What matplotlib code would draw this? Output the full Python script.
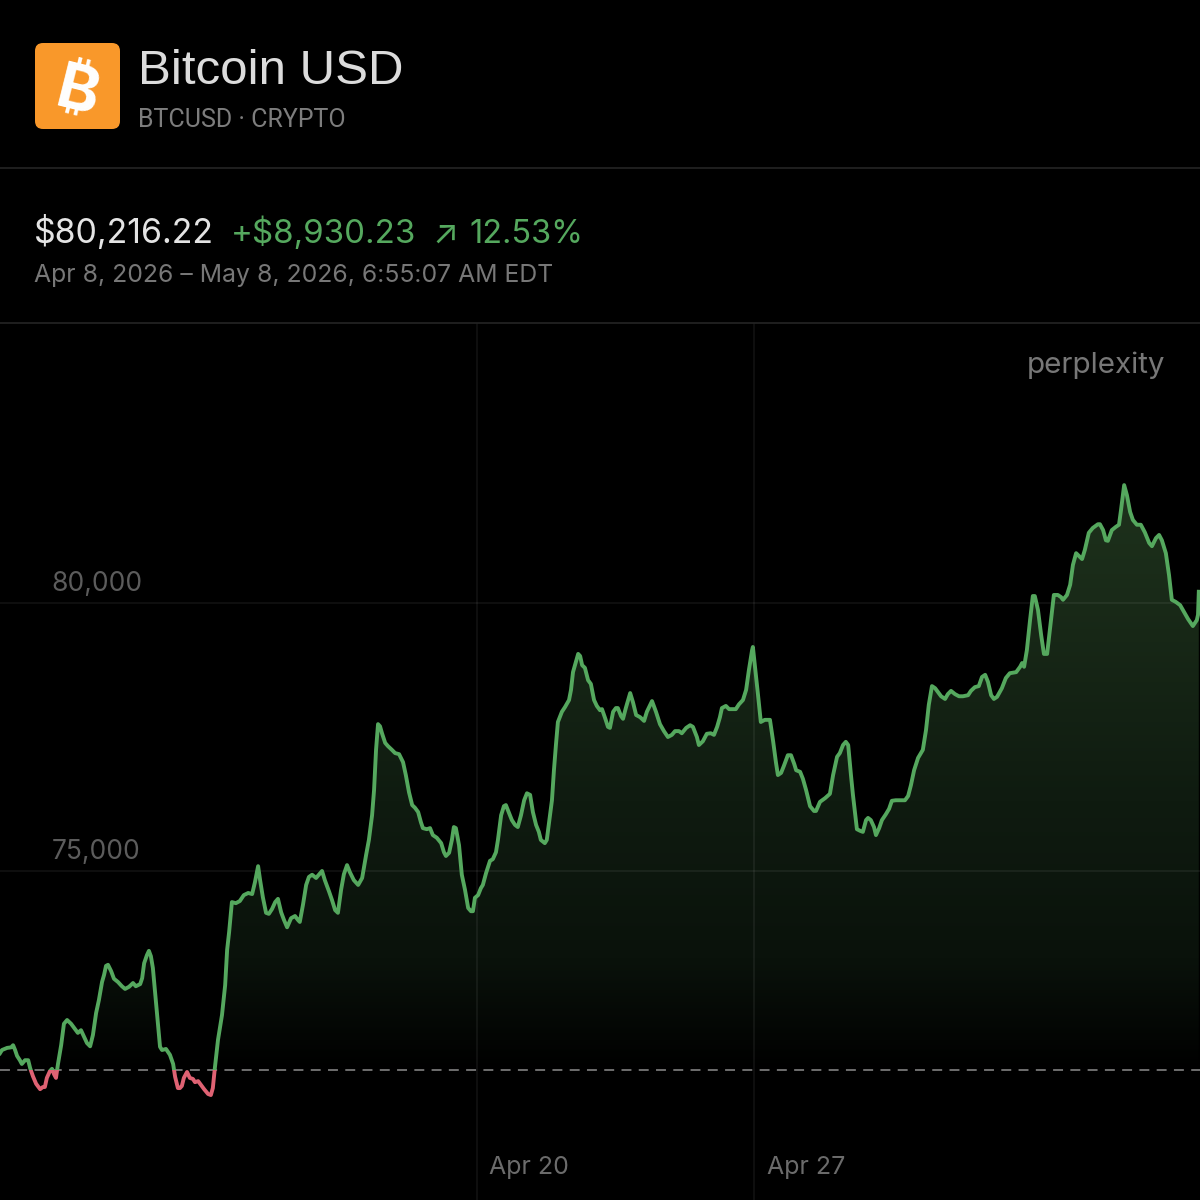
import numpy as np
from matplotlib import pyplot as plt
from matplotlib.patches import FancyBboxPatch, Rectangle
from matplotlib.path import Path
from matplotlib.colors import LinearSegmentedColormap

plt.rcParams['font.family'] = ['Inter', 'DejaVu Sans']

# days since Apr 8 2026 00:00
days = [
    0, .05, .18, .28, .33, .38, .43, .50, .55, .63,
    .71, .76, .83, .91, 1.01, 1.08, 1.13, 1.18, 1.26, 1.31,
    1.36, 1.41, 1.46, 1.54, 1.61, 1.69, 1.79, 1.89, 1.96, 2.04,
    2.12, 2.19, 2.27, 2.34, 2.42, 2.49, 2.57, 2.62, 2.67, 2.72,
    2.80, 2.87, 2.97, 3.07, 3.15, 3.25, 3.35, 3.42, 3.53, 3.58,
    3.63, 3.70, 3.75, 3.80, 3.85, 3.90, 3.98, 4.03, 4.08, 4.18,
    4.28, 4.36, 4.41, 4.48, 4.53, 4.58, 4.63, 4.71, 4.78, 4.86,
    4.91, 4.99, 5.06, 5.14, 5.24, 5.31, 5.36, 5.41, 5.49, 5.59,
    5.67, 5.72, 5.77, 5.84, 5.94, 6.04, 6.14, 6.25, 6.35, 6.42,
    6.50, 6.55, 6.62, 6.70, 6.77, 6.85, 6.93, 7.00, 7.08, 7.15,
    7.23, 7.33, 7.43, 7.50, 7.55, 7.63, 7.71, 7.78, 7.86, 7.96,
    8.11, 8.18, 8.29, 8.36, 8.44, 8.51, 8.59, 8.66, 8.74, 8.81,
    8.91, 9.02, 9.12, 9.22, 9.29, 9.37, 9.42, 9.47, 9.52, 9.57,
    9.62, 9.70, 9.77, 9.87, 9.95, 10.05, 10.15, 10.22, 10.30, 10.38,
    10.45, 10.53, 10.60, 10.65, 10.75, 10.83, 10.90, 11.00, 11.11, 11.18,
    11.23, 11.31, 11.38, 11.43, 11.48, 11.56, 11.63, 11.71, 11.79, 11.86,
    11.91, 11.96, 12.04, 12.11, 12.16, 12.24, 12.34, 12.41, 12.49, 12.54,
    12.62, 12.69, 12.74, 12.82, 12.89, 12.97, 13.04, 13.12, 13.20, 13.27,
    13.35, 13.42, 13.50, 13.57, 13.62, 13.72, 13.77, 13.85, 13.90, 13.95,
    14.00, 14.05, 14.15, 14.23, 14.33, 14.38, 14.43, 14.48, 14.56, 14.61,
    14.66, 14.73, 14.81, 14.88, 14.96, 15.03, 15.11, 15.16, 15.24, 15.31,
    15.36, 15.44, 15.51, 15.56, 15.64, 15.69, 15.76, 15.87, 15.94, 16.02,
    16.12, 16.22, 16.29, 16.42, 16.52, 16.62, 16.72, 16.82, 16.92, 17.00,
    17.10, 17.17, 17.28, 17.38, 17.45, 17.55, 17.60, 17.70, 17.80, 17.90,
    17.98, 18.06, 18.13, 18.18, 18.28, 18.36, 18.46, 18.53, 18.61, 18.71,
    18.79, 18.86, 18.94, 18.96, 19.01, 19.09, 19.16, 19.26, 19.39, 19.47,
    19.54, 19.59, 19.67, 19.74, 19.84, 19.92, 20.00, 20.05, 20.15, 20.22,
    20.30, 20.40, 20.50, 20.55, 20.65, 20.78, 20.90, 20.98, 21.08, 21.15,
    21.23, 21.30, 21.36, 21.43, 21.48, 21.58, 21.66, 21.73, 21.81, 21.86,
    21.93, 22.01, 22.06, 22.14, 22.21, 22.31, 22.39, 22.46, 22.56, 22.66,
    22.79, 22.87, 22.94, 23.02, 23.12, 23.24, 23.32, 23.39, 23.47, 23.55,
    23.62, 23.70, 23.80, 23.87, 23.95, 24.05, 24.15, 24.25, 24.38, 24.45,
    24.55, 24.65, 24.73, 24.81, 24.88, 24.96, 25.03, 25.11, 25.23, 25.33,
    25.43, 25.59, 25.69, 25.74, 25.79, 25.86, 25.94, 26.01, 26.06, 26.14,
    26.22, 26.29, 26.37, 26.44, 26.54, 26.64, 26.72, 26.77, 26.87, 26.95,
    27.02, 27.10, 27.17, 27.25, 27.32, 27.42, 27.52, 27.65, 27.70, 27.78,
    27.85, 27.90, 28.00, 28.10, 28.18, 28.23, 28.31, 28.38, 28.46, 28.53,
    28.63, 28.73, 28.83, 28.94, 29.01, 29.11, 29.19, 29.26, 29.36, 29.44,
    29.51, 29.61, 29.72, 29.82, 29.92, 30.04, 30.14, 30.17, 30.19,
]

prices = [
    71600, 71660, 71700, 71710, 71750, 71660, 71550, 71470, 71400, 71470,
    71470, 71320, 71170, 71030, 70930, 70970, 70970, 71140, 71270, 71310,
    71210, 71140, 71400, 71750, 72150, 72220, 72150, 72050, 71980, 72030,
    71900, 71790, 71730, 71940, 72350, 72590, 72930, 73060, 73230, 73250,
    73130, 72990, 72930, 72850, 72800, 72840, 72910, 72850, 72890, 73000,
    73280, 73430, 73510, 73410, 73190, 72780, 72130, 71720, 71660, 71680,
    71570, 71400, 71160, 70950, 70950, 70990, 71140, 71250, 71140, 71120,
    71060, 71080, 71010, 70930, 70840, 70820, 70950, 71320, 71850, 72310,
    72870, 73530, 73860, 74420, 74400, 74440, 74550, 74590, 74570, 74790,
    75090, 74830, 74510, 74220, 74200, 74290, 74420, 74480, 74230, 74090,
    73950, 74120, 74160, 74090, 74050, 74370, 74740, 74890, 74930, 74870,
    75000, 74830, 74610, 74460, 74270, 74220, 74650, 74940, 75110, 74980,
    74830, 74740, 74870, 75300, 75580, 76040, 76510, 77260, 77740, 77700,
    77570, 77390, 77330, 77260, 77200, 77180, 77030, 76790, 76470, 76230,
    76180, 76100, 75910, 75800, 75780, 75800, 75670, 75620, 75520, 75350,
    75280, 75340, 75580, 75820, 75800, 75480, 74930, 74650, 74310, 74250,
    74250, 74500, 74550, 74680, 74740, 74960, 75190, 75220, 75350, 75580,
    76040, 76210, 76230, 76080, 75950, 75860, 75820, 76040, 76320, 76450,
    76420, 76100, 75860, 75730, 75580, 75520, 75580, 76040, 76320, 76880,
    77350, 77780, 77970, 78060, 78190, 78380, 78710, 78840, 79050, 79010,
    78840, 78790, 78560, 78490, 78190, 78080, 78000, 78020, 77850, 77690,
    77670, 77970, 78040, 78040, 77890, 77840, 78040, 78320, 78150, 77910,
    77870, 77800, 77970, 78170, 77970, 77740, 77610, 77500, 77540, 77610,
    77610, 77570, 77670, 77720, 77690, 77500, 77350, 77420, 77560, 77570,
    77540, 77690, 77870, 78040, 78080, 78020, 78020, 78020, 78110, 78190,
    78380, 78750, 79120, 79180, 78840, 78280, 77780, 77820, 77820, 77420,
    77030, 76790, 76830, 76960, 77160, 77160, 77000, 76880, 76850, 76720,
    76510, 76210, 76120, 76120, 76290, 76360, 76440, 76790, 77130, 77200,
    77350, 77410, 77350, 76790, 76420, 75780, 75750, 75730, 75950, 75990,
    75950, 75820, 75670, 75800, 75950, 76060, 76160, 76310, 76320, 76320,
    76320, 76400, 76600, 76880, 77110, 77260, 77630, 78100, 78450, 78410,
    78340, 78260, 78210, 78300, 78360, 78300, 78260, 78260, 78280, 78360,
    78430, 78450, 78620, 78660, 78530, 78280, 78210, 78250, 78410, 78600,
    78690, 78710, 78810, 78880, 78810, 79120, 79680, 80130, 80130, 79870,
    79400, 79050, 79050, 79500, 80150, 80150, 80110, 80060, 80150, 80340,
    80710, 80930, 80880, 80820, 80990, 81310, 81400, 81470, 81470, 81360,
    81170, 81160, 81360, 81420, 81460, 81730, 82200, 82010, 81700, 81550,
    81460, 81460, 81320, 81120, 81060, 81210, 81270, 81170, 80930, 80520,
    80060, 80020, 79960, 79830, 79700, 79570, 79680, 79780, 80210,
]

prev_close = 71285.99
y_ticks = [75000, 80000]
y_labels = ['75,000', '80,000']
x_ticks = [12, 19]
x_labels = ['Apr 20', 'Apr 27']

green = '#55a85e'
red = '#df6273'

fig = plt.figure(figsize=(12, 12), dpi=100, facecolor='black')

# chart part, y 323..1200 px of the picture
ax = fig.add_axes([0, 0, 1, 877 / 1200])
ax.set_facecolor('black')
for s in ax.spines.values():
    s.set_visible(False)
ax.set_xticks(x_ticks)
ax.set_yticks(y_ticks)
ax.tick_params(length=0, labelbottom=False, labelleft=False)
ax.grid(True, color='white', alpha=0.075, lw=1.1)
ax.set_axisbelow('line')

# fill fades to black down to the previous close
fill_cmap = LinearSegmentedColormap.from_list(
    'fade', [(0, '#000000'), (.05, '#030503'), (.19, '#0a120b'), (.46, '#0f1b10'), (.8, '#192a18'), (1, '#1e321c')])
poly = ax.fill_between(days, prices, prev_close, where=np.array(prices) >= prev_close,
                       interpolate=True, color='none', lw=0)
grad = ax.imshow(np.linspace(1, 0, 256).reshape(-1, 1), cmap=fill_cmap, vmin=0, vmax=1,
                 extent=[0, 30.22, prev_close, max(prices)], aspect='auto', zorder=1)
grad.set_clip_path(Path.make_compound_path(*poly.get_paths()), transform=ax.transData)
ax.set_xlim(0, 30.22)
ax.set_ylim(68862, 85224)

# line is green over the previous close and red under it
up_line, = ax.plot(days, prices, color=green, lw=2.8, zorder=3, solid_joinstyle='round')
up_line.set_clip_path(Rectangle((0, prev_close), 31, 20000, transform=ax.transData))
down_line, = ax.plot(days, prices, color=red, lw=2.8, zorder=3, solid_joinstyle='round')
down_line.set_clip_path(Rectangle((0, prev_close - 20000), 31, 20000, transform=ax.transData))

ax.axhline(prev_close, color='#8c8c8c', lw=1.1, dashes=(6.5, 4.8), zorder=2)

for val, lab in zip(y_ticks, y_labels):
    ax.annotate(lab, (0, val), xycoords=('axes fraction', 'data'), xytext=(37, 9),
                textcoords='offset points', color='#5c5c5c', fontsize=19, va='baseline')
for val, lab in zip(x_ticks, x_labels):
    ax.annotate(lab, (val, 0), xycoords=('data', 'axes fraction'), xytext=(9.2, 18.5),
                textcoords='offset points', color='#6b6b6b', fontsize=18, va='baseline')

# header part in picture pixels
top = fig.add_axes([0, 0, 1, 1], facecolor='none')
top.set_xlim(0, 1200)
top.set_ylim(1200, 0)
top.axis('off')

top.plot([0, 1200], [168, 168], color='#222222', lw=1.3)
top.plot([0, 1200], [323, 323], color='#222222', lw=1.3)

top.add_patch(FancyBboxPatch((41, 49), 73, 74, boxstyle='round,pad=6,rounding_size=8',
                             fc='#f9982a', ec='none'))
top.text(78, 94, '₿', color='white', fontsize=46, fontweight='bold', rotation=-14, ha='center', va='center',
         family=['Inter', 'Noto Sans', 'Roboto', 'Open Sans', 'Lato', 'Liberation Sans', 'DejaVu Sans'])

top.text(138, 84, 'Bitcoin USD', color='#dcdcdc', fontsize=35.5, va='baseline', family='Liberation Sans')
top.text(138, 127, 'BTCUSD · CRYPTO', color='#7d7d7d', fontsize=18, va='baseline', family='Roboto')

top.text(34, 243, '$80,216.22', color='#e4e4e4', fontsize=24.4, va='baseline')
top.text(231, 243, '+$8,930.23', color=green, fontsize=23.8, va='baseline')
top.text(432, 243, '↗', color=green, fontsize=24, va='baseline')
top.text(469, 243, '12.53%', color=green, fontsize=23.4, va='baseline')
top.text(34.5, 282, 'Apr 8, 2026 – May 8, 2026, 6:55:07 AM EDT', color='#777777', fontsize=17.87, va='baseline')

top.text(1165, 373, 'perplexity', color='#777777', fontsize=21.3, ha='right', va='baseline')

fig.savefig('out.png', dpi=100, facecolor='black')
